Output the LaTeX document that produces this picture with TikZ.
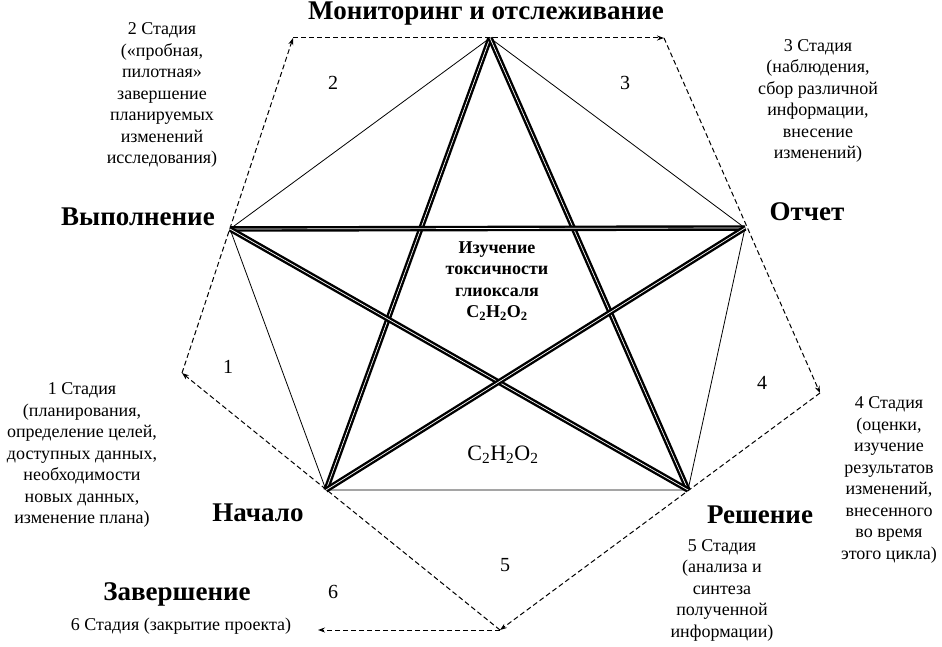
\documentclass[tikz,border=0pt]{standalone}
\usepackage{fontspec}
\setmainfont{Liberation Serif}
\usetikzlibrary{arrows.meta,positioning,calc}
\tikzset{
  vershina/.style={font=\fontsize{27}{30}\selectfont\bfseries,inner sep=0pt},
  stadia/.style={font=\fontsize{18}{21.5}\selectfont,align=center,inner sep=0pt},
  nomer/.style={font=\fontsize{20}{22}\selectfont,inner sep=0pt},
  rebro/.style={line width=0.8pt},
  luch/.style={line width=2.4pt,double=white,double distance=0.7pt},
  cikl/.style={line width=1pt,dash pattern=on 5pt off 3pt,-{Stealth[length=7pt,width=5pt]}},
}
\begin{document}
\begin{tikzpicture}[x=1pt,y=-1pt]
  \useasboundingbox (0,0) rectangle (942,647);
  \coordinate (mon) at (490,38);
  \coordinate (vyp) at (230,229);
  \coordinate (otc) at (745,228);
  \coordinate (nach) at (326,490);
  \coordinate (resh) at (688,490);
  \coordinate (o1) at (182,373);
  \coordinate (o2) at (293,38);
  \coordinate (o3) at (664,38);
  \coordinate (o4) at (820,393);
  \coordinate (o5) at (500,630);
  \coordinate (o6) at (318,630);
  \draw[rebro] (mon) -- (vyp) -- (nach) -- (resh) -- (otc) -- cycle;
  \draw[luch] (mon) -- (nach);
  \draw[luch] (mon) -- (resh);
  \draw[luch] (vyp) -- (otc);
  \draw[luch] (vyp) -- (resh);
  \draw[luch] (otc) -- (nach);
  \draw[cikl] (o5) -- (o1);
  \draw[cikl] (o1) -- (o2);
  \draw[cikl] (o2) -- (o3);
  \draw[cikl] (o3) -- (o4);
  \draw[cikl] (o4) -- (o5);
  \draw[cikl] (o5) -- (o6);
  \node[vershina] (tmon) at (486,14) {Мониторинг и отслеживание};
  \node[vershina] (tvyp) at (138,217) {Выполнение};
  \node[vershina] (totc) at (807,212) {Отчет};
  \node[vershina] (tnach) at (258,513) {Начало};
  \node[vershina] (tresh) at (760,515) {Решение};
  \node[vershina] (tzav) at (177,594) {Завершение};
  \node[stadia] (s2) at (162,95) {2 Стадия\\(«пробная,\\пилотная»\\завершение\\планируемых\\изменений\\исследования)};
  \node[stadia] (s3) at (818,101) {3 Стадия\\(наблюдения,\\сбор различной\\информации,\\внесение\\изменений)};
  \node[stadia] (s1) at (82,455) {1 Стадия\\(планирования,\\определение целей,\\доступных данных,\\необходимости\\новых данных,\\изменение плана)};
  \node[stadia] (s4) at (889,480) {4 Стадия\\(оценки,\\изучение\\результатов\\изменений,\\внесенного\\во время\\этого цикла)};
  \node[stadia] (s5) at (722,590) {5 Стадия\\(анализа и\\синтеза\\полученной\\информации)};
  \node[stadia] (s6) at (181,626) {6 Стадия (закрытие проекта)};
  \node[stadia,font=\fontsize{18}{21.5}\selectfont\bfseries] (tema) at (497,281) {Изучение\\токсичности\\глиоксаля\\C\textsubscript{2}H\textsubscript{2}O\textsubscript{2}};
  \node[stadia,font=\fontsize{22}{24}\selectfont] (formula) at (503,455) {C\textsubscript{2}H\textsubscript{2}O\textsubscript{2}};
  \node[nomer] (n2) at (333,83) {2};
  \node[nomer] (n3) at (625,83) {3};
  \node[nomer] (n1) at (228,367) {1};
  \node[nomer] (n4) at (762,383) {4};
  \node[nomer] (n5) at (505,565) {5};
  \node[nomer] (n6) at (333,592) {6};
\end{tikzpicture}
\end{document}
